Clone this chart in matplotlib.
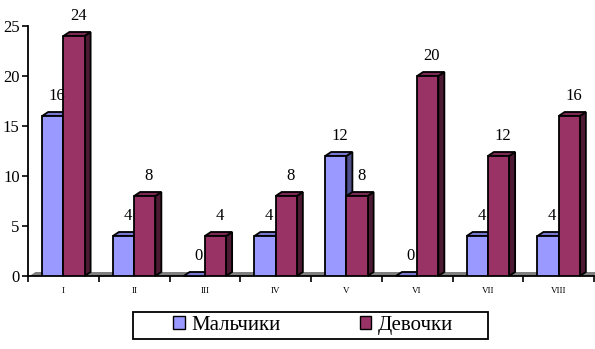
import matplotlib
matplotlib.use("Agg")
import matplotlib.pyplot as plt
from matplotlib.patches import Polygon, Rectangle
import numpy as np

categories = ["I", "II", "III", "IV", "V", "VI", "VII", "VIII"]
boys = [16, 4, 0, 4, 12, 0, 4, 4]
girls = [24, 8, 4, 8, 8, 20, 12, 16]
series_names = ["Мальчики", "Девочки"]
yticks = [0, 5, 10, 15, 20, 25]

front_colors = ["#9999FF", "#993366"]
top_colors = ["#7777D0", "#7A2952"]
side_colors = ["#4F4F8C", "#4C1A33"]

plt.rcParams['font.family'] = ['Liberation Serif', 'DejaVu Serif']

fig = plt.figure(figsize=(5.95, 3.49), dpi=100)
ax = fig.add_axes([28/595, (349-276)/349, (594-28)/595, 250/349])
ax.set_xlim(0, len(categories))
ax.set_ylim(0, 25)

dx = 0.085   # depth in x data units
dy = 0.4     # depth in y data units
bw = 0.3
start = 0.2

# floor
floor = Polygon([(0.02, 0), (len(categories), 0), (len(categories) + dx, dy), (0.02 + dx, dy)],
                closed=True, facecolor="#808080", edgecolor="none", zorder=1, clip_on=False)
ax.add_patch(floor)

for s, vals in enumerate([boys, girls]):
    for i, v in enumerate(vals):
        x0 = i + start + s * bw
        x1 = x0 + bw
        z = 3 + s * 0.1
        ax.add_patch(Polygon([(x1, 0), (x1 + dx, dy), (x1 + dx, v + dy), (x1, v)], closed=True,
                             facecolor=side_colors[s], edgecolor="black", lw=1.3, zorder=z, clip_on=False))
        ax.add_patch(Polygon([(x0, v), (x0 + dx, v + dy), (x1 + dx, v + dy), (x1, v)], closed=True,
                             facecolor=top_colors[s], edgecolor="black", lw=1.3, zorder=z, clip_on=False))
        if v > 0:
            ax.bar(x0, v, width=bw, align="edge", color=front_colors[s], edgecolor="black",
                   linewidth=1.3, zorder=z + 0.01)
        ax.text((x0 + x1) / 2 + 0.06, v + 2.0, str(v), ha="center", va="center",
                fontsize=12, color="black", zorder=10)

for sp in ["top", "right"]:
    ax.spines[sp].set_visible(False)
ax.spines["left"].set_linewidth(1.3)
ax.spines["bottom"].set_linewidth(1.3)
ax.spines["left"].set_zorder(5)

ax.set_yticks(yticks)
ax.set_yticklabels([str(t) for t in yticks], fontsize=12)
ax.tick_params(axis="y", length=4, width=1.2, pad=2)

ax.set_xticks(np.arange(len(categories) + 1))
ax.set_xticklabels([])
ax.set_xticks(np.arange(len(categories)) + 0.5, minor=True)
ax.set_xticklabels(categories, minor=True, fontsize=6.5)
ax.tick_params(axis="x", which="major", length=4, width=1.2, direction="out")
ax.tick_params(axis="x", which="minor", length=0, pad=8)

handles = [Rectangle((0, 0), 1, 1, facecolor=front_colors[k], edgecolor="black", lw=1) for k in range(2)]
leg = fig.legend(handles, series_names, loc="center", bbox_to_anchor=(313/595, 1 - 325.5/349),
                 ncol=2, frameon=False, fontsize=15, handlelength=0.55,
                 handleheight=0.55, handletextpad=0.3, columnspacing=3.8, borderpad=0.2,
                 borderaxespad=0)
# legend box
fig.add_artist(Rectangle((133/595, 1 - 339/349), (488-133)/595, 27/349, transform=fig.transFigure,
                         facecolor="none", edgecolor="black", lw=1.3))

fig.savefig("out.png", dpi=100)
